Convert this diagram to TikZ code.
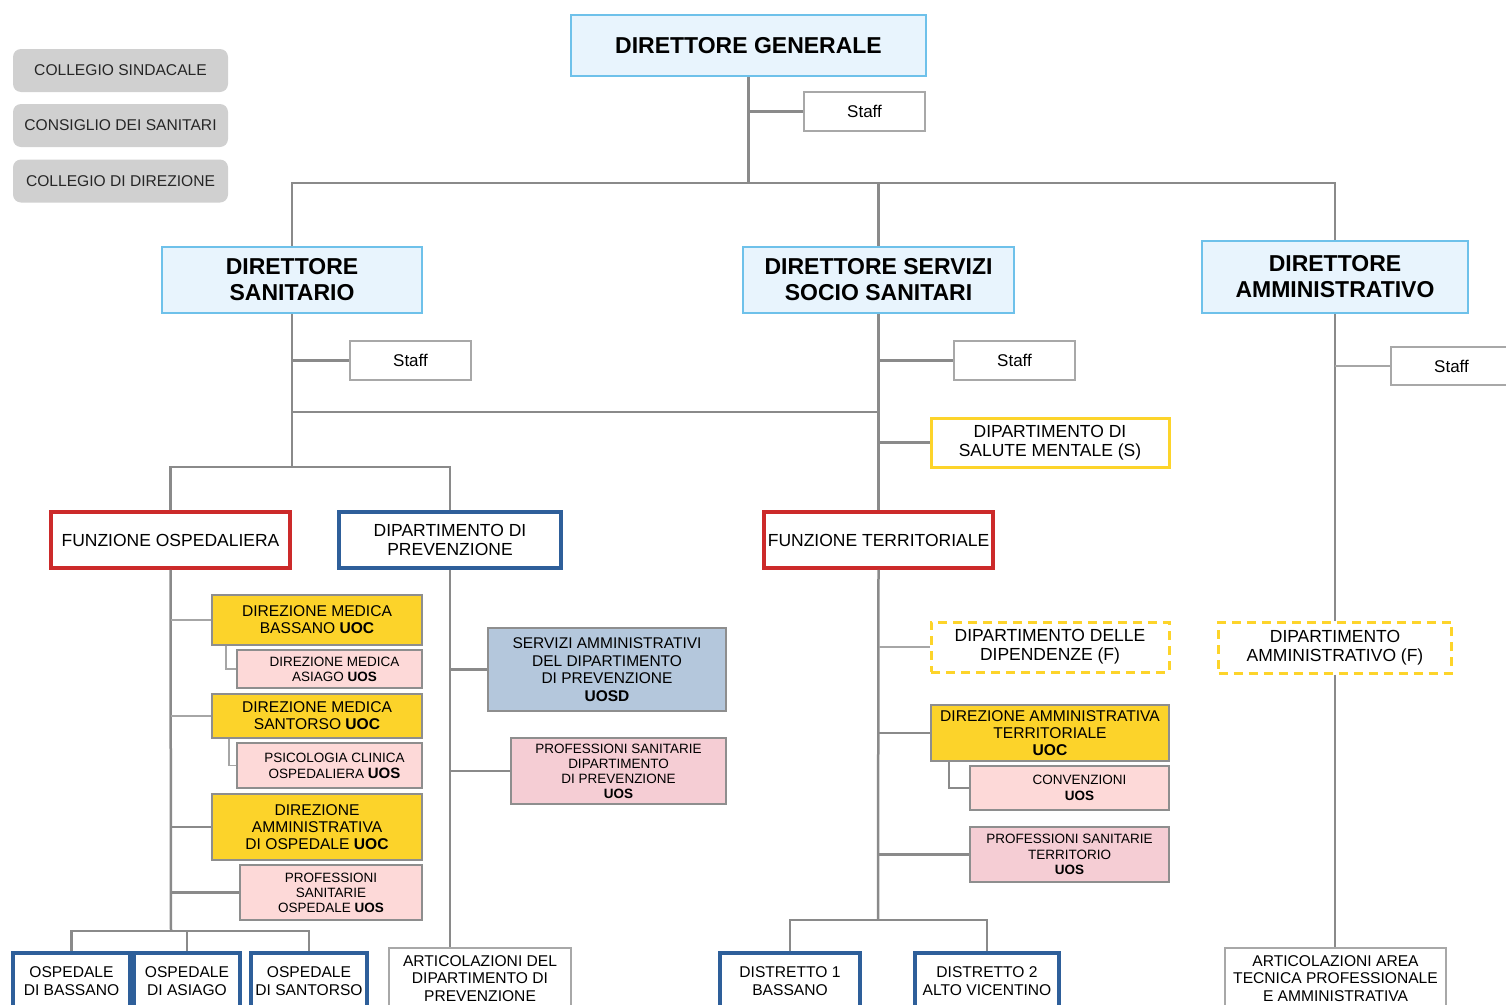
\documentclass[tikz,border=0pt]{standalone}
\usepackage{fontspec}
\setmainfont{Liberation Sans}
\usetikzlibrary{calc}
\definecolor{greyfill}{HTML}{D0D0D0}
\definecolor{dirfill}{HTML}{E8F4FD}
\definecolor{dirline}{HTML}{6EC1EA}
\definecolor{stafline}{HTML}{A8A8A8}
\definecolor{funzred}{HTML}{CC2A2A}
\definecolor{deptblue}{HTML}{2E5F9A}
\definecolor{yel}{HTML}{FDD42A}
\definecolor{uocfill}{HTML}{FCD32A}
\definecolor{uosfill}{HTML}{FDD9D8}
\definecolor{proffill}{HTML}{F5CDD4}
\definecolor{uosdfill}{HTML}{B4C7DC}
\definecolor{boxline}{HTML}{8E8E8E}
\definecolor{connc}{HTML}{8A8A8A}
\definecolor{thinc}{HTML}{A6A6A6}
\newcommand\fs[2]{\fontsize{#1}{#2}\selectfont}
\begin{document}
\begin{tikzpicture}[x=1pt,y=-1pt,
  box/.style={rectangle, inner sep=0pt, align=center, text=black},
  greybox/.style={box, fill=greyfill, rounded corners=8pt, font=\fs{15.6}{18}, minimum width=215pt, minimum height=43pt, text=black!85},
  dirbox/.style={box, fill=dirfill, draw=dirline, line width=2pt, font=\bfseries\fs{23}{26}},
  staffbox/.style={box, fill=white, draw=stafline, line width=2pt, font=\fs{17}{20}, minimum width=121pt, minimum height=39pt},
  funzbox/.style={box, fill=white, draw=funzred, line width=3.5pt, font=\fs{17.5}{19}},
  deptbox/.style={box, fill=white, draw=deptblue, line width=3.5pt, font=\fs{17.5}{19}},
  smbox/.style={box, fill=white, draw=yel, line width=3pt, font=\fs{17.5}{19}},
  dashbox/.style={smbox, dash pattern=on 9pt off 6pt},
  uocbox/.style={box, fill=uocfill, draw=boxline, line width=2.5pt, font=\fs{15.6}{17}},
  uosbox/.style={box, fill=uosfill, draw=boxline, line width=2.5pt, font=\fs{13.5}{15}},
  profbox/.style={uosbox, fill=proffill},
  uosdbox/.style={box, fill=uosdfill, draw=boxline, line width=2.5pt, font=\fs{15.5}{17.5}},
  distbox/.style={box, fill=white, draw=deptblue, line width=3.5pt, font=\fs{15.6}{18}},
  artbox/.style={box, fill=white, draw=stafline, line width=2pt, font=\fs{15.6}{17.5}},
  conn/.style={draw=connc, line width=2.5pt},
  thinconn/.style={draw=thinc, line width=1.5pt},
]
\useasboundingbox (0,0) rectangle (1506,1004);
\clip (0,0) rectangle (1506,1004);

% grey boxes
\node[greybox] (cs) at (120.5,70.5) {COLLEGIO SINDACALE};
\node[greybox] (cds) at (120.5,125.5) {CONSIGLIO DEI SANITARI};
\node[greybox] (cdd) at (120.5,181) {COLLEGIO DI DIREZIONE};

% top level
\node[dirbox, minimum width=355pt, minimum height=61pt] (dg) at (748.5,45.5) {DIRETTORE GENERALE};
\node[staffbox] (staff0) at (864.5,111.5) {Staff};
\node[dirbox, minimum width=260pt, minimum height=66pt] (ds) at (292,280) {DIRETTORE\\SANITARIO};
\node[dirbox, minimum width=271pt, minimum height=66pt] (dss) at (878.5,280) {DIRETTORE SERVIZI\\SOCIO SANITARI};
\node[dirbox, minimum width=266pt, minimum height=72pt] (da) at (1335,277) {DIRETTORE\\AMMINISTRATIVO};

\coordinate (bus0) at (748,183);
\coordinate (bus1) at (292,412);
\coordinate (bus2) at (292,467);
\coordinate (bus3) at (171,931);
\coordinate (bus4) at (878,920);

\draw[conn] (dg.south) -- (dg.south |- bus0);
\draw[conn] (dg.south |- staff0.west) -- (staff0.west);
\draw[conn] (ds.north) -- (ds.north |- bus0) -- (da.north |- bus0) -- (da.north);
\draw[conn] (dss.north |- bus0) -- (dss.north);

% staffs
\node[staffbox] (staff1) at (410.5,360.5) {Staff};
\node[staffbox] (staff2) at (1014.5,360.5) {Staff};
\node[staffbox, minimum height=38pt] (staff3) at (1451.5,366) {Staff};
\node[smbox, minimum width=238pt, minimum height=49pt] (dsm) at (1050,442.5) {DIPARTIMENTO DI\\SALUTE MENTALE (S)};

% second level
\node[funzbox, minimum width=239pt, minimum height=56pt] (fo) at (170.5,540) {FUNZIONE OSPEDALIERA};
\node[deptbox, minimum width=222pt, minimum height=56pt] (dp) at (450,540) {DIPARTIMENTO DI\\PREVENZIONE};
\node[funzbox, minimum width=229pt, minimum height=56pt] (ft) at (878.5,540) {FUNZIONE TERRITORIALE};

\draw[conn] (ds.south) -- (bus2);
\draw[conn] (ds.south |- staff1.west) -- (staff1.west);
\draw[conn] (bus1) -- (dss.south |- bus1);
\draw[conn] (fo.north) -- (fo.north |- bus2) -- (dp.north |- bus2) -- (dp.north);
\draw[conn] (dss.south) -- (ft.north);
\draw[conn] (dss.south |- staff2.west) -- (staff2.west);
\draw[conn] (dss.south |- dsm.west) -- (dsm.west);

% ospedaliera column
\node[uocbox, minimum width=210pt, minimum height=50pt] (dmb) at (317,620) {DIREZIONE MEDICA\\BASSANO \textbf{UOC}};
\node[uosbox, minimum width=185pt, minimum height=38pt] (dma) at (329.5,669) {\hspace*{10pt}DIREZIONE MEDICA\\\hspace*{10pt}ASIAGO \textbf{UOS}};
\node[uocbox, minimum width=210pt, minimum height=44pt] (dms) at (317,716) {DIREZIONE MEDICA\\SANTORSO \textbf{UOC}};
\node[uosbox, minimum width=185pt, minimum height=45pt, font=\fs{13.5}{16}] (pco) at (329.5,765.5) {\hspace*{10pt}PSICOLOGIA CLINICA\\\hspace*{10pt}OSPEDALIERA {\fs{15}{16}\textbf{UOS}}};
\node[uocbox, minimum width=210pt, minimum height=66pt] (dao) at (317,827) {DIREZIONE\\AMMINISTRATIVA\\DI OSPEDALE \textbf{UOC}};
\node[uosbox, minimum width=182pt, minimum height=55pt] (pso) at (331,892.5) {PROFESSIONI\\SANITARIE\\OSPEDALE \textbf{UOS}};

\node[distbox, minimum width=117pt, minimum height=56pt] (osp1) at (71.5,981) {OSPEDALE\\DI BASSANO};
\node[distbox, minimum width=106pt, minimum height=56pt] (osp2) at (187,981) {OSPEDALE\\DI ASIAGO};
\node[distbox, minimum width=116pt, minimum height=56pt] (osp3) at (309,981) {OSPEDALE\\DI SANTORSO};

\draw[conn] (fo.south) -- (bus3);
\draw[thinconn] (fo.south |- dmb.west) -- (dmb.west);
\draw[thinconn] (fo.south |- dms.west) -- (dms.west);
\draw[conn] (fo.south |- dao.west) -- (dao.west);
\draw[conn] (fo.south |- pso.west) -- (pso.west);
\draw[thinconn] (dmb.south -| 226,0) -- (226,669) -- (dma.west);
\draw[thinconn] (dms.south -| 229,0) -- (229,765.5) -- (pco.west);
\draw[conn] (osp1.north) -- (osp1.north |- bus3) -- (osp3.north |- bus3) -- (osp3.north);
\draw[conn] (osp2.north |- bus3) -- (osp2.north);

% prevenzione column
\node[uosdbox, minimum width=238pt, minimum height=83pt] (sad) at (607,669.5) {SERVIZI AMMINISTRATIVI\\DEL DIPARTIMENTO\\DI PREVENZIONE\\\textbf{UOSD}};
\node[profbox, minimum width=215pt, minimum height=66pt] (psd) at (618.5,771) {PROFESSIONI SANITARIE\\DIPARTIMENTO\\DI PREVENZIONE\\\textbf{UOS}};
\node[artbox, minimum width=182pt, minimum height=61pt] (adp) at (480,978.5) {ARTICOLAZIONI DEL\\DIPARTIMENTO DI\\PREVENZIONE};
\draw[conn] (dp.south) -- (dp.south |- adp.north);
\draw[conn] (dp.south |- sad.west) -- (sad.west);
\draw[conn] (dp.south |- psd.west) -- (psd.west);

% territoriale column
\node[dashbox, minimum width=238pt, minimum height=50pt] (ddf) at (1050,647) {DIPARTIMENTO DELLE\\DIPENDENZE (F)};
\node[uocbox, minimum width=238pt, minimum height=56pt] (dat) at (1050,733) {DIREZIONE AMMINISTRATIVA\\TERRITORIALE\\\textbf{UOC}};
\node[uosbox, minimum width=199pt, minimum height=44pt, font=\fs{13.5}{16}] (conv) at (1069.5,788) {\hspace*{20pt}CONVENZIONI\\\hspace*{20pt}\textbf{UOS}};
\node[profbox, minimum width=199pt, minimum height=55pt, font=\fs{13.5}{15.5}] (pst) at (1069.5,854.5) {PROFESSIONI SANITARIE\\TERRITORIO\\\textbf{UOS}};
\node[distbox, minimum width=140pt, minimum height=56pt] (d1) at (790,981) {DISTRETTO 1\\BASSANO};
\node[distbox, minimum width=144pt, minimum height=56pt] (d2) at (987,981) {DISTRETTO 2\\ALTO VICENTINO};

\draw[conn] (ft.south) -- (bus4);
\draw[thinconn] (ft.south |- ddf.west) -- (ddf.west);
\draw[conn] (ft.south |- dat.west) -- (dat.west);
\draw[conn] (ft.south |- pst.west) -- (pst.west);
\draw[conn] (dat.south -| 949,0) -- (949,788) -- (conv.west);
\draw[conn] (d1.north) -- (d1.north |- bus4) -- (d2.north |- bus4) -- (d2.north);

% amministrativo column
\node[dashbox, minimum width=233pt, minimum height=51pt] (daf) at (1335,647.5) {DIPARTIMENTO\\AMMINISTRATIVO (F)};
\node[artbox, minimum width=221pt, minimum height=61pt] (aat) at (1335.5,978.5) {ARTICOLAZIONI AREA\\TECNICA PROFESSIONALE\\E AMMINISTRATIVA};
\draw[conn] (da.south) -- (daf.north);
\draw[conn] (daf.south) -- (daf.south |- aat.north);
\draw[thinconn, line width=2pt] (da.south |- staff3.west) -- (staff3.west);
\end{tikzpicture}
\end{document}
